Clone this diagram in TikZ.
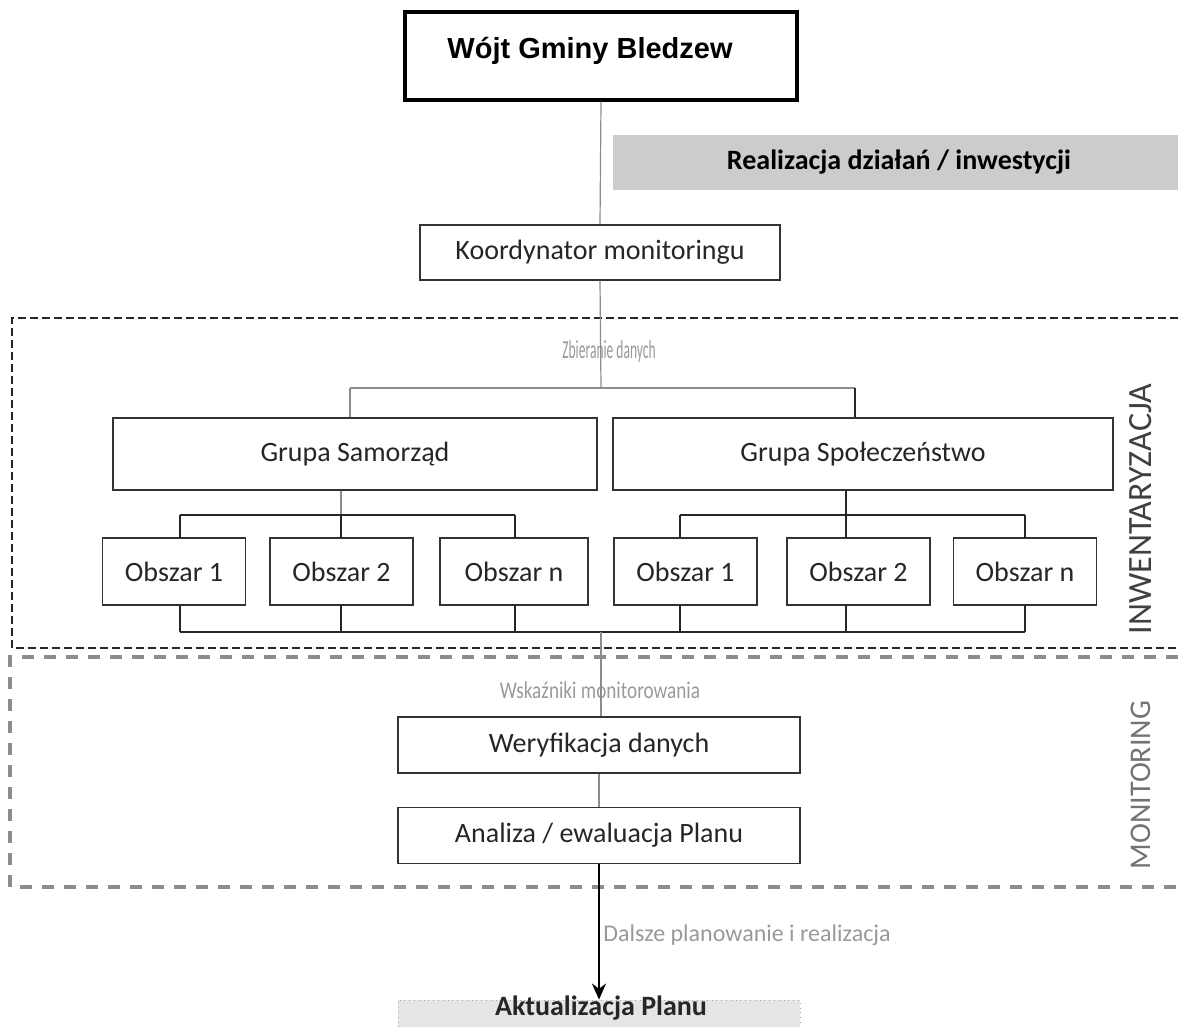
\documentclass[tikz,border=0pt]{standalone}
\usepackage{fontspec}
\setmainfont{Carlito}
\newfontfamily\arialf{Liberation Sans}
\usetikzlibrary{arrows.meta}
\begin{document}
\begin{tikzpicture}[x=0.5pt,y=-0.5pt,
  box/.style={draw=black!80, line width=0.7pt, fill=white, inner sep=0pt,
    font=\fontsize{14}{16}\selectfont, text=black!85},
  obox/.style={box, minimum width=71.5pt, minimum height=33.5pt},
  gbox/.style={box, minimum height=36pt},
  mbox/.style={box, minimum width=201pt, minimum height=28pt},
  conn/.style={draw=black!85, line width=0.7pt},
  spine/.style={draw=black!45, line width=0.6pt},
  glabel/.style={text=black!40, inner sep=0pt, font=\fontsize{11}{13}\selectfont},
  sidelabel/.style={rotate=90, inner sep=0pt, text=black!75}]
\useasboundingbox (0,0) rectangle (1178,1027);

% frames
\draw[black!85, line width=0.6pt, dash pattern=on 4pt off 2pt]
  (1178,318) -- (12,318) -- (12,648) -- (1178,648);
\draw[black!45, line width=1.6pt, dash pattern=on 6pt off 5pt]
  (1178,657) -- (10,657) -- (10,887) -- (1178,887);

% nodes
\node[draw=black, line width=1.6pt, fill=white, minimum width=196pt, minimum height=44pt,
  inner sep=0pt] (wojt) at (601,56) {};
\node[inner sep=0pt, font=\arialf\bfseries\fontsize{14.5}{16}\selectfont] (wojttext) at (590,51) {Wójt Gminy Bledzew};
\node[fill=black!20, minimum width=282.5pt, minimum height=27.5pt, inner sep=0pt] (real) at (895.5,162.5) {};
\node[inner sep=0pt, font=\bfseries\fontsize{14}{16}\selectfont] (realtext) at (899,162.5) {Realizacja działań / inwestycji};
\node[box, minimum width=180pt, minimum height=27.5pt] (koord) at (600,252.5) {Koordynator monitoringu};

\node[glabel, xscale=0.52, font=\fontsize{13}{15}\selectfont] (zbier) at (609,352) {Zbieranie danych};

\node[gbox, minimum width=242pt] (gsam) at (355,454) {Grupa Samorząd};
\node[gbox, minimum width=250pt] (gspo) at (863,454) {Grupa Społeczeństwo};

\node[obox] (l1) at (174,571.5) {Obszar 1};
\node[obox] (l2) at (341.5,571.5) {Obszar 2};
\node[obox, minimum width=74pt] (ln) at (514,571.5) {Obszar n};
\node[obox] (r1) at (685.5,571.5) {Obszar 1};
\node[obox] (r2) at (858.5,571.5) {Obszar 2};
\node[obox] (rn) at (1025,571.5) {Obszar n};

\node[glabel, xscale=0.8, font=\fontsize{12}{14}\selectfont] (wsk) at (600,690) {Wskaźniki monitorowania};
\node[mbox] (wer) at (599,745) {Weryfikacja danych};
\node[mbox] (ana) at (599,835.5) {Analiza / ewaluacja Planu};
\node[glabel, anchor=west, font=\fontsize{12}{14}\selectfont] (dal) at (603,935) {Dalsze planowanie i realizacja};
\node[fill=black!10, draw=black!35, dotted, minimum width=201pt, minimum height=24pt, inner sep=0pt] (akt) at (599,1024) {};
\node[inner sep=0pt, font=\bfseries\fontsize{14}{16}\selectfont, text=black!85] (akttext) at (601,1008) {Aktualizacja Planu};

\node[sidelabel, font=\fontsize{17}{19}\selectfont] (inw) at (1141,509) {INWENTARYZACJA};
\node[sidelabel, font=\fontsize{15}{17}\selectfont, text=black!55] (mon) at (1141,785) {MONITORING};

% coordinates
\coordinate (tb) at (601,388);
\coordinate (tbl) at (350,388);
\coordinate (tbr) at (855,388);
\coordinate (lb) at (341,515);
\coordinate (rb) at (846,515);
\coordinate (bb) at (601,632);

% connectors
\draw[spine] (wojt.south) -- (koord.north);
\draw[spine] (koord.south) -- (tb);
\draw[spine] (tbl) -- (tbr);
\draw[spine] (tbl) -- (tbl |- gsam.north);
\draw[conn] (tbr) -- (tbr |- gspo.north);

\draw[spine] (gsam.south -| lb) -- (lb);
\draw[conn] (180,515) -- (515,515);
\draw[conn] (180,515) -- (180,538);
\draw[conn] (lb) -- (341,538);
\draw[conn] (515,515) -- (515,538);

\draw[conn] (gspo.south -| rb) -- (rb);
\draw[conn] (680,515) -- (1025,515);
\draw[conn] (680,515) -- (680,538);
\draw[conn] (rb) -- (846,538);
\draw[conn] (1025,515) -- (1025,538);

\draw[conn] (180,632) -- (1025,632);
\foreach \xx in {180,341,515,680,846,1025} \draw[conn] (\xx,605) -- (\xx,632);

\draw[spine] (bb) -- (wer.north -| bb);
\draw[spine] (wer.south) -- (ana.north);
\draw[draw=black, line width=1.3pt, -{Stealth[length=8pt,width=7pt]}] (ana.south) -- (akt.north);
\end{tikzpicture}
\end{document}
